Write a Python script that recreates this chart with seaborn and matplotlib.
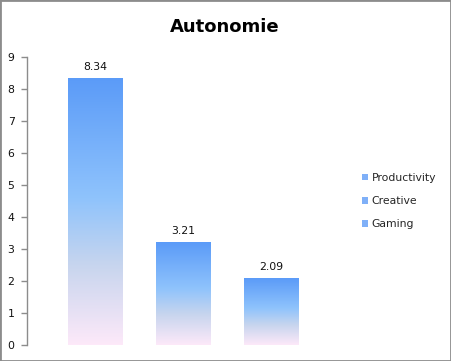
"""Autonomie bar chart with Excel-like gradient bars."""

import matplotlib.pyplot as plt
import numpy as np
import pandas as pd
import seaborn as sns
from matplotlib.colors import LinearSegmentedColormap
from matplotlib.patches import Patch, Rectangle

categories = ["Productivity", "Creative", "Gaming"]
values = [8.34, 3.21, 2.09]

GRADIENT = LinearSegmentedColormap.from_list(
    "bar_grad",
    [(0.0, "#fde9f9"), (0.3, "#c7d5ee"), (0.55, "#8fc3fc"), (1.0, "#5b9bf8")],
)

sns.set_style("white")
plt.rcParams["font.family"] = ["DejaVu Sans"]

df = pd.DataFrame({"category": categories, "value": values})

fig = plt.figure(figsize=(4.51, 3.61), dpi=100)
ax = fig.add_axes([27 / 451, 16 / 361, (340 - 27) / 451, 288 / 361])

sns.barplot(data=df, x="category", y="value", width=0.62, color="#7fb0f8", ax=ax)

grad = np.linspace(0, 1, 256).reshape(-1, 1)
for bar, val in zip(ax.patches, values):
    x0, w = bar.get_x(), bar.get_width()
    bar.set_visible(False)
    ax.imshow(grad, cmap=GRADIENT, origin="lower", aspect="auto",
              extent=(x0, x0 + w, 0, val), zorder=2)
    ax.text(x0 + w / 2, val + 0.2, f"{val:.2f}", ha="center", va="bottom",
            fontsize=7.8, color="#111111")

ax.set_xlim(-0.773, 2.78)
ax.set_ylim(0, 9)
ax.set_yticks(range(10))
ax.set_xticks([])
ax.set_xlabel("")
ax.set_ylabel("")
for side in ["top", "right", "bottom"]:
    ax.spines[side].set_visible(False)
ax.spines["left"].set_color("#8c8c8c")
ax.spines["left"].set_linewidth(1)
ax.tick_params(axis="y", left=True, length=4, width=1, color="#8c8c8c",
               labelsize=7.8, labelcolor="#111111", pad=5)

fig.text(225 / 451, 1 - 27 / 361, "Autonomie", ha="center", va="center",
         fontsize=13, fontweight="bold", color="black")

handles = [Patch(facecolor="#7fb0f8", edgecolor="none") for _ in categories]
fig.legend(handles, categories, loc="center left",
           bbox_to_anchor=(352 / 451, 1 - 201 / 361), frameon=False,
           fontsize=7.8, handlelength=0.6, handleheight=0.6,
           handletextpad=0.3, labelspacing=1.22)

fig.patches.append(Rectangle((0, 0), 1, 1, transform=fig.transFigure,
                             fill=False, edgecolor="#8c8c8c", linewidth=2))

fig.savefig("out.png", dpi=100)
plt.close(fig)
